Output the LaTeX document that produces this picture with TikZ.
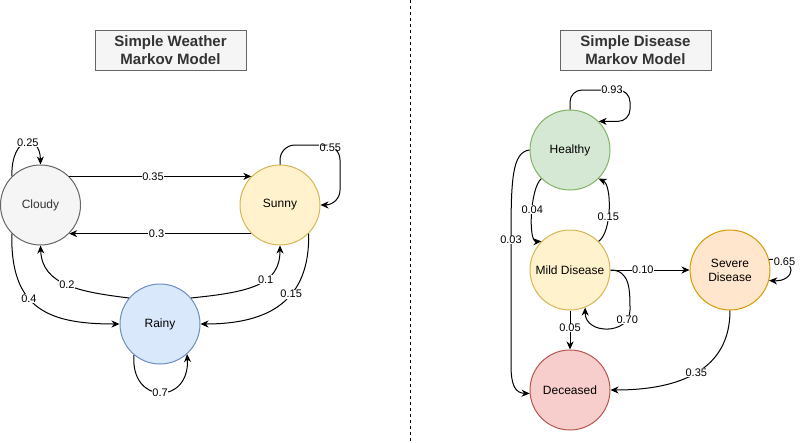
\documentclass[tikz,border=0pt]{standalone}
\usepackage{fontspec}
\setmainfont{Liberation Sans}
\usetikzlibrary{arrows.meta}
\definecolor{cloudyfill}{HTML}{F5F5F5}\definecolor{cloudyline}{HTML}{666666}
\definecolor{yelfill}{HTML}{FFF2CC}\definecolor{yelline}{HTML}{D6B656}
\definecolor{bluefill}{HTML}{DAE8FC}\definecolor{blueline}{HTML}{6C8EBF}
\definecolor{greenfill}{HTML}{D5E8D4}\definecolor{greenline}{HTML}{82B366}
\definecolor{orfill}{HTML}{FFE6CC}\definecolor{orline}{HTML}{D79B00}
\definecolor{redfill}{HTML}{F8CECC}\definecolor{redline}{HTML}{B85450}
\definecolor{darktext}{HTML}{333333}
\tikzset{
  state/.style={circle, minimum size=80pt, inner sep=0pt, line width=1pt, font=\fontsize{12}{14}\selectfont, align=center},
  titlebox/.style={rectangle, draw=cloudyline, fill=cloudyfill, line width=1pt, minimum width=151pt, minimum height=40pt, text=darktext, font=\fontsize{15}{18}\selectfont\bfseries, align=center},
  arr/.style={line width=1pt, -{Stealth[length=8pt,width=7pt,inset=2.5pt]}},
  lbl/.style={fill=white, inner sep=0.5pt, font=\fontsize{11}{13}\selectfont}
}
\begin{document}
\begin{tikzpicture}[x=1pt,y=-1pt]
\useasboundingbox (0,0) rectangle (800,442);
% divider
\draw[line width=1pt, dash pattern=on 3pt off 3pt] (410.5,0) -- (410.5,442);
% titles
\node[titlebox] (t1) at (170.5,50) {Simple Weather\\Markov Model};
\node[titlebox] (t2) at (635.5,50) {Simple Disease\\Markov Model};
% weather states
\node[state, draw=cloudyline, fill=cloudyfill, text=darktext] (cloudy) at (40.5,205) {Cloudy};
\node[state, draw=yelline, fill=yelfill] (sunny) at (280,205) {Sunny};
\node[state, draw=blueline, fill=bluefill] (rainy) at (160,324) {Rainy};
% disease states
\node[state, draw=greenline, fill=greenfill] (healthy) at (570,150) {Healthy};
\node[state, draw=yelline, fill=yelfill] (mild) at (570,270) {Mild Disease};
\node[state, draw=orline, fill=orfill] (severe) at (730,270) {Severe\\Disease};
\node[state, draw=redline, fill=redfill] (dec) at (570,390) {Deceased};
% weather edges
\draw[arr] (cloudy.45) -- node[lbl, pos=0.46] {0.35} (sunny.135);
\draw[arr] (sunny.225) -- node[lbl, pos=0.52] {0.3} (cloudy.-45);
\draw[arr] (cloudy.135) .. controls (11,135) and (40,133) .. (cloudy.90) node[lbl, pos=0.55] {0.25};
\draw[arr, rounded corners=15pt] (sunny.90) |- (340,145) node[lbl, pos=0.92, yshift=-3pt] {0.55} |- (sunny.0);
\draw[arr] (rainy.140) .. controls (80,292) and (42,285) .. (cloudy.-90) node[lbl, pos=0.5] {0.2};
\draw[arr] (rainy.40) .. controls (250,292) and (280,285) .. (sunny.-90) node[lbl, pos=0.6] {0.1};
\draw[arr] (cloudy.225) .. controls (10,310) and (50,324) .. (rainy.180) node[lbl, pos=0.4] {0.4};
\draw[arr] (sunny.-45) .. controls (310,300) and (270,324) .. (rainy.0) node[lbl, pos=0.4] {0.15};
\draw[arr] (rainy.-130) .. controls (130,405) and (190,405) .. (rainy.-48) node[lbl, pos=0.5] {0.7};
% disease edges
\draw[arr, rounded corners=12pt] (healthy.90) |- (630,90) node[lbl, pos=0.85] {0.93} |- (healthy.45);
\draw[arr] (healthy.225) .. controls (530,188) and (528,242) .. (mild.135) node[lbl, pos=0.45] {0.04};
\draw[arr] (mild.45) .. controls (612,232) and (612,185) .. (healthy.-45) node[lbl, pos=0.4] {0.15};
\draw[arr] (healthy.180) .. controls (512,152) and (511,180) .. (511,240) node[lbl] {0.03} -- (511,365) .. controls (511,385) and (515,393) .. (dec.185);
\draw[arr] (mild.0) -- node[lbl, pos=0.41] {0.10} (severe.180);
\draw[arr] (severe.15) .. controls (800,258) and (795,282) .. (severe.-15) node[lbl, pos=0.22] {0.65};
\draw[arr] (mild.0) .. controls (630,270) and (630,290) .. (630,310) .. controls (630,335) and (585,335) .. (mild.-68) node[lbl, pos=0.15] {0.70};
\draw[arr] (mild.-90) -- node[lbl, pos=0.45] {0.05} (dec.90);
\draw[arr] (severe.-90) .. controls (730,370) and (680,390) .. (dec.0) node[lbl, pos=0.5] {0.35};
\end{tikzpicture}
\end{document}
